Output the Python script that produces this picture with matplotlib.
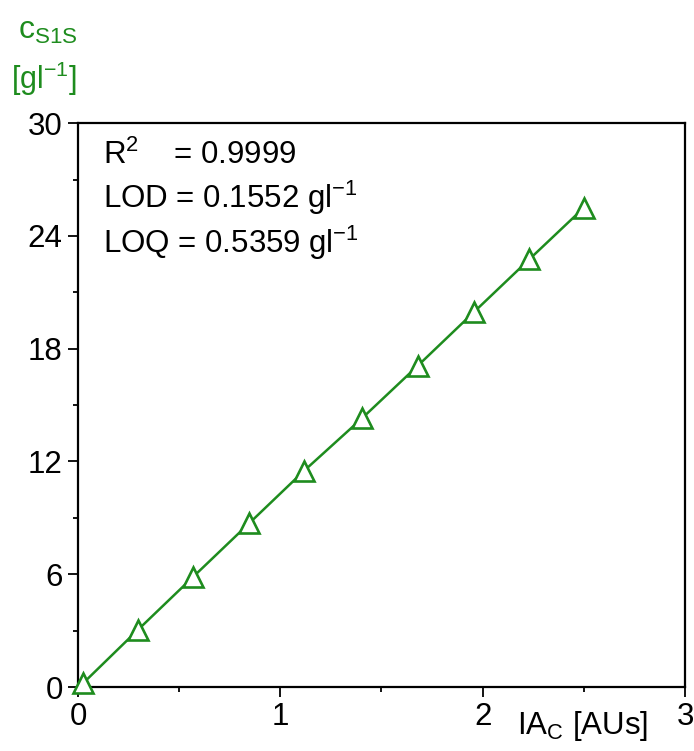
import matplotlib
matplotlib.use("Agg")
import matplotlib.pyplot as plt
import numpy as np
from matplotlib.ticker import MultipleLocator

plt.rcParams['font.family'] = ['Liberation Sans', 'DejaVu Sans']
plt.rcParams['mathtext.fontset'] = 'custom'
plt.rcParams['mathtext.rm'] = 'Liberation Sans'
plt.rcParams['mathtext.it'] = 'Liberation Sans'
plt.rcParams['mathtext.default'] = 'regular'

# Data
ia_c = [0.025, 0.297, 0.568, 0.845, 1.117, 1.404, 1.68, 1.957, 2.23, 2.50]
c_s1s = [0.2, 3.05, 5.85, 8.7, 11.5, 14.3, 17.1, 19.95, 22.75, 25.5]
x_ticks = [0, 1, 2, 3]
y_ticks = [0, 6, 12, 18, 24, 30]
annot = ["R$^{2}$    = 0.9999", "LOD = 0.1552 gl$^{-1}$", "LOQ = 0.5359 gl$^{-1}$"]

green = '#1E8C1E'

fig = plt.figure(figsize=(6.94, 7.51), dpi=100)
ax = fig.add_axes([0.1124, 0.0852, 0.8746, 0.7508])

ax.plot(ia_c, c_s1s, color=green, lw=1.8, marker='^', ms=14,
        mfc='white', mec=green, mew=1.9, zorder=3, clip_on=False)

ax.set_xlim(0, 3)
ax.set_ylim(0, 30)
ax.set_xticks(x_ticks)
ax.set_yticks(y_ticks)
ax.xaxis.set_minor_locator(MultipleLocator(0.5))
ax.yaxis.set_minor_locator(MultipleLocator(3))
ax.tick_params(which='major', direction='out', length=7, width=1.3, labelsize=22.5, pad=4)
ax.tick_params(which='minor', direction='out', length=3.5, width=1.3)
for s in ax.spines.values():
    s.set_linewidth(1.6)

ys = [0.943, 0.867, 0.787]
for t, y in zip(annot, ys):
    ax.text(0.041, y, t, transform=ax.transAxes, fontsize=22.5, va='center', ha='left')

fig.text(0.026, 0.948, "c$_{S1S}$", color=green, fontsize=23, ha='left', va='baseline')
fig.text(0.016, 0.882, "[gl$^{-1}$]", color=green, fontsize=22, ha='left', va='baseline')
fig.text(0.745, 0.022, "IA$_{C}$ [AUs]", color='black', fontsize=22.5, ha='left', va='baseline')

fig.savefig("out.png", dpi=100)
